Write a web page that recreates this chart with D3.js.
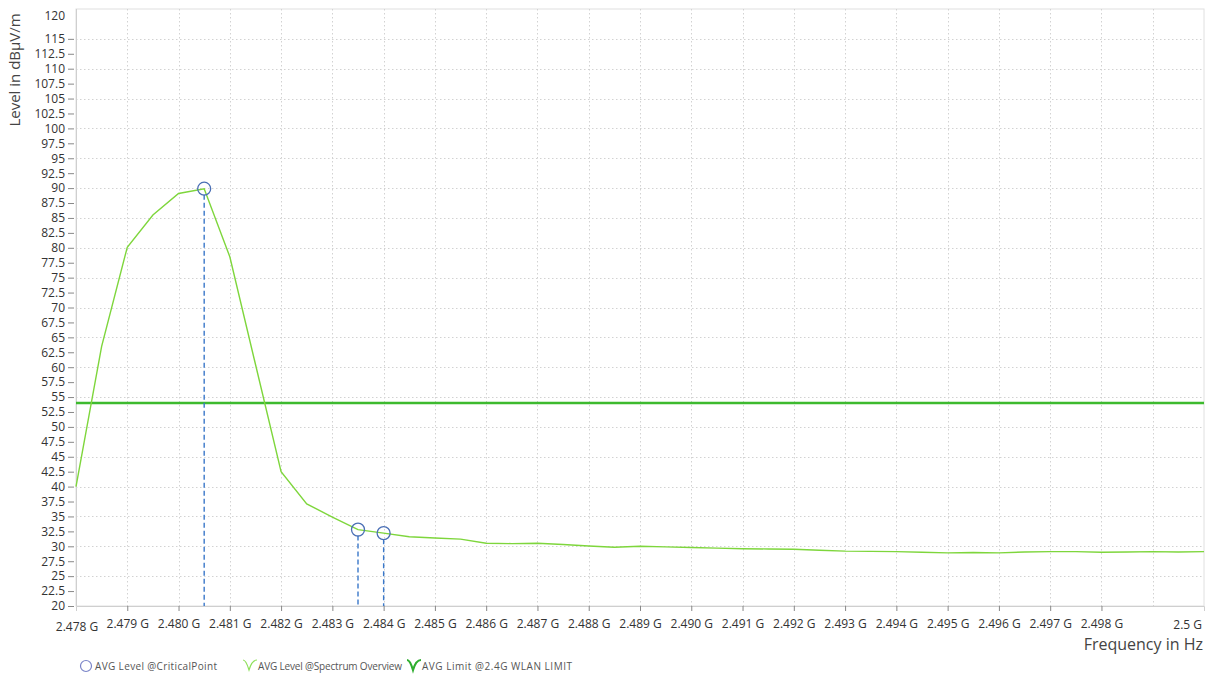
<!DOCTYPE html>
<html><head><meta charset="utf-8">
<script src="https://cdn.jsdelivr.net/npm/d3@7"></script>
<style>
body{margin:0;background:#fff;}
text{font-family:"Open Sans","Noto Sans",sans-serif;}
</style></head>
<body><svg id="c" width="1210" height="677"></svg>
<script>
const freqGHz = [2.4780,2.4785,2.4790,2.4795,2.4800,2.4805,2.4810,2.4815,2.4820,2.4825,2.4830,2.4835,2.4840,2.4845,2.4850,2.4855,2.4860,2.4865,2.4870,2.4875,2.4880,2.4885,2.4890,2.4895,2.4900,2.4905,2.4910,2.4915,2.4920,2.4925,2.4930,2.4935,2.4940,2.4945,2.4950,2.4955,2.4960,2.4965,2.4970,2.4975,2.4980,2.4985,2.4990,2.4995,2.5000];
const spectrumLevel = [40.0,63.5,80.1,85.5,89.1,89.9,78.5,60.5,42.5,37.1,34.9,32.8,32.2,31.6,31.4,31.2,30.5,30.45,30.5,30.3,30.05,29.85,30.0,29.9,29.8,29.7,29.6,29.55,29.5,29.35,29.2,29.15,29.1,29.0,28.9,28.95,28.9,29.05,29.1,29.1,29.0,29.05,29.1,29.05,29.1];
const criticalFreq = [2.4805,2.4835,2.4840];
const criticalLevel = [89.9,32.8,32.2];
const limitLevel = 54;
const yTicks = [20,22.5,25,27.5,30,32.5,35,37.5,40,42.5,45,47.5,50,52.5,55,57.5,60,62.5,65,67.5,70,72.5,75,77.5,80,82.5,85,87.5,90,92.5,95,97.5,100,102.5,105,107.5,110,112.5,115,120];
const xTicks = [2.478,2.479,2.480,2.481,2.482,2.483,2.484,2.485,2.486,2.487,2.488,2.489,2.490,2.491,2.492,2.493,2.494,2.495,2.496,2.497,2.498,2.5];
const xTickLabels = ["2.478 G","2.479 G","2.480 G","2.481 G","2.482 G","2.483 G","2.484 G","2.485 G","2.486 G","2.487 G","2.488 G","2.489 G","2.490 G","2.491 G","2.492 G","2.493 G","2.494 G","2.495 G","2.496 G","2.497 G","2.498 G","2.5 G"];
const xGrid = [2.479,2.480,2.481,2.482,2.483,2.484,2.485,2.486,2.487,2.488,2.489,2.490,2.491,2.492,2.493,2.494,2.495,2.496,2.497,2.498,2.499];
const yGrid = [25,30,35,40,45,50,55,60,65,70,75,80,85,90,95,100,105,110,115];
const legendLabels = ["AVG Level @CriticalPoint","AVG Level @Spectrum Overview","AVG Limit @2.4G WLAN LIMIT"];

const svg = d3.select("#c");
const L=76, R=1204, T=9, B=606;
const x = d3.scaleLinear().domain([2.478,2.5]).range([L,R]);
const y = d3.scaleLinear().domain([20,120]).range([B,T]);

// frame
svg.append("rect").attr("x",L).attr("y",T).attr("width",R-L).attr("height",B-T)
  .attr("fill","none").attr("stroke","#e0e0e0").attr("stroke-width",1);

// grid
svg.append("g").selectAll("line").data(yGrid).join("line")
  .attr("x1",L).attr("x2",R).attr("y1",d=>Math.round(y(d))+0.5).attr("y2",d=>Math.round(y(d))+0.5)
  .attr("stroke","#d2d2d2").attr("stroke-dasharray","1.5,2.5").attr("stroke-width",1);
svg.append("g").selectAll("line").data(xGrid).join("line")
  .attr("y1",T).attr("y2",B).attr("x1",d=>Math.round(x(d))+0.5).attr("x2",d=>Math.round(x(d))+0.5)
  .attr("stroke","#d2d2d2").attr("stroke-dasharray","1.5,2.5").attr("stroke-width",1);

// y axis
const yAxis = d3.axisLeft(y).tickValues(yTicks.filter(v=>v<120)).tickSize(6).tickPadding(3).tickFormat(d=>String(d));
const gy = svg.append("g").attr("transform",`translate(${L-2},0)`).call(yAxis);
gy.select(".domain").remove();
gy.selectAll(".tick line").attr("stroke","#888");
gy.selectAll(".tick text").attr("font-size",12).attr("fill","#333");
svg.append("text").attr("x",L-11).attr("y",y(120)+11).attr("text-anchor","end")
  .attr("font-size",12).attr("fill","#333").text(String(yTicks[yTicks.length-1]));

// left axis line
svg.append("line").attr("x1",L+0.5).attr("x2",L+0.5).attr("y1",T).attr("y2",B).attr("stroke","#cfcfcf");

// x axis
const xAxis = d3.axisBottom(x).tickValues(xTicks.slice(1,-1)).tickSize(5).tickPadding(8)
  .tickFormat((d)=>xTickLabels[xTicks.indexOf(d)]);
const gx = svg.append("g").attr("transform",`translate(0,${B})`).call(xAxis);
gx.select(".domain").attr("stroke","#cfcfcf");
gx.selectAll(".tick line").attr("stroke","#888");
gx.selectAll(".tick text").attr("font-size",12).attr("fill","#333");
svg.append("text").attr("x",x(xTicks[0])+1).attr("y",B+25).attr("text-anchor","middle")
  .attr("font-size",12).attr("fill","#333").text(xTickLabels[0]);
svg.append("text").attr("x",R-2).attr("y",B+23).attr("text-anchor","end")
  .attr("font-size",12).attr("fill","#333").text(xTickLabels[xTickLabels.length-1]);

// axis titles
svg.append("text").attr("x",R-1).attr("y",650).attr("text-anchor","end")
  .attr("font-size",16).attr("fill","#444").text("Frequency in Hz");
svg.append("text").attr("transform",`translate(20,${70}) rotate(-90)`).attr("text-anchor","middle")
  .attr("font-size",15).attr("fill","#444").text("Level in dBµV/m");

// limit line
svg.append("line").attr("x1",L).attr("x2",R).attr("y1",y(limitLevel)).attr("y2",y(limitLevel))
  .attr("stroke","#3dba2e").attr("stroke-width",2.5);

// spectrum
const line = d3.line().x((d,i)=>x(freqGHz[i])).y(d=>y(d));
svg.append("path").datum(spectrumLevel).attr("d",line).attr("fill","none")
  .attr("stroke","#7ed63c").attr("stroke-width",1.4);

// critical points
criticalFreq.forEach((f,i)=>{
  svg.append("line").attr("x1",x(f)).attr("x2",x(f)).attr("y1",y(criticalLevel[i])+6).attr("y2",B)
    .attr("stroke","#3a78c9").attr("stroke-width",1.4).attr("stroke-dasharray","5,3");
  svg.append("circle").attr("cx",x(f)).attr("cy",y(criticalLevel[i])).attr("r",6.5)
    .attr("fill","none").attr("stroke","#4a6fb5").attr("stroke-width",1.3);
});

// legend
const lg = svg.append("g").attr("font-size",10).attr("fill","#555");
lg.append("circle").attr("cx",86).attr("cy",666).attr("r",5.5).attr("fill","none").attr("stroke","#7a84c8").attr("stroke-width",1.2);
lg.append("text").attr("x",95).attr("y",670).attr("fill","#555").attr("textLength",122).text(legendLabels[0]);
const wave = (x0,col,w)=>lg.append("path")
  .attr("d",`M${x0},660 Q${x0+3},660 ${x0+6},670 Q${x0+9},660 ${x0+14},660`)
  .attr("fill","none").attr("stroke",col).attr("stroke-width",w);
wave(243,"#8ee05a",1.2);
lg.append("text").attr("x",258).attr("y",670).attr("fill","#555").attr("textLength",144).text(legendLabels[1]);
wave(407,"#2fae2f",2.2);
lg.append("text").attr("x",422).attr("y",670).attr("fill","#555").attr("textLength",150).text(legendLabels[2]);
</script></body></html>
